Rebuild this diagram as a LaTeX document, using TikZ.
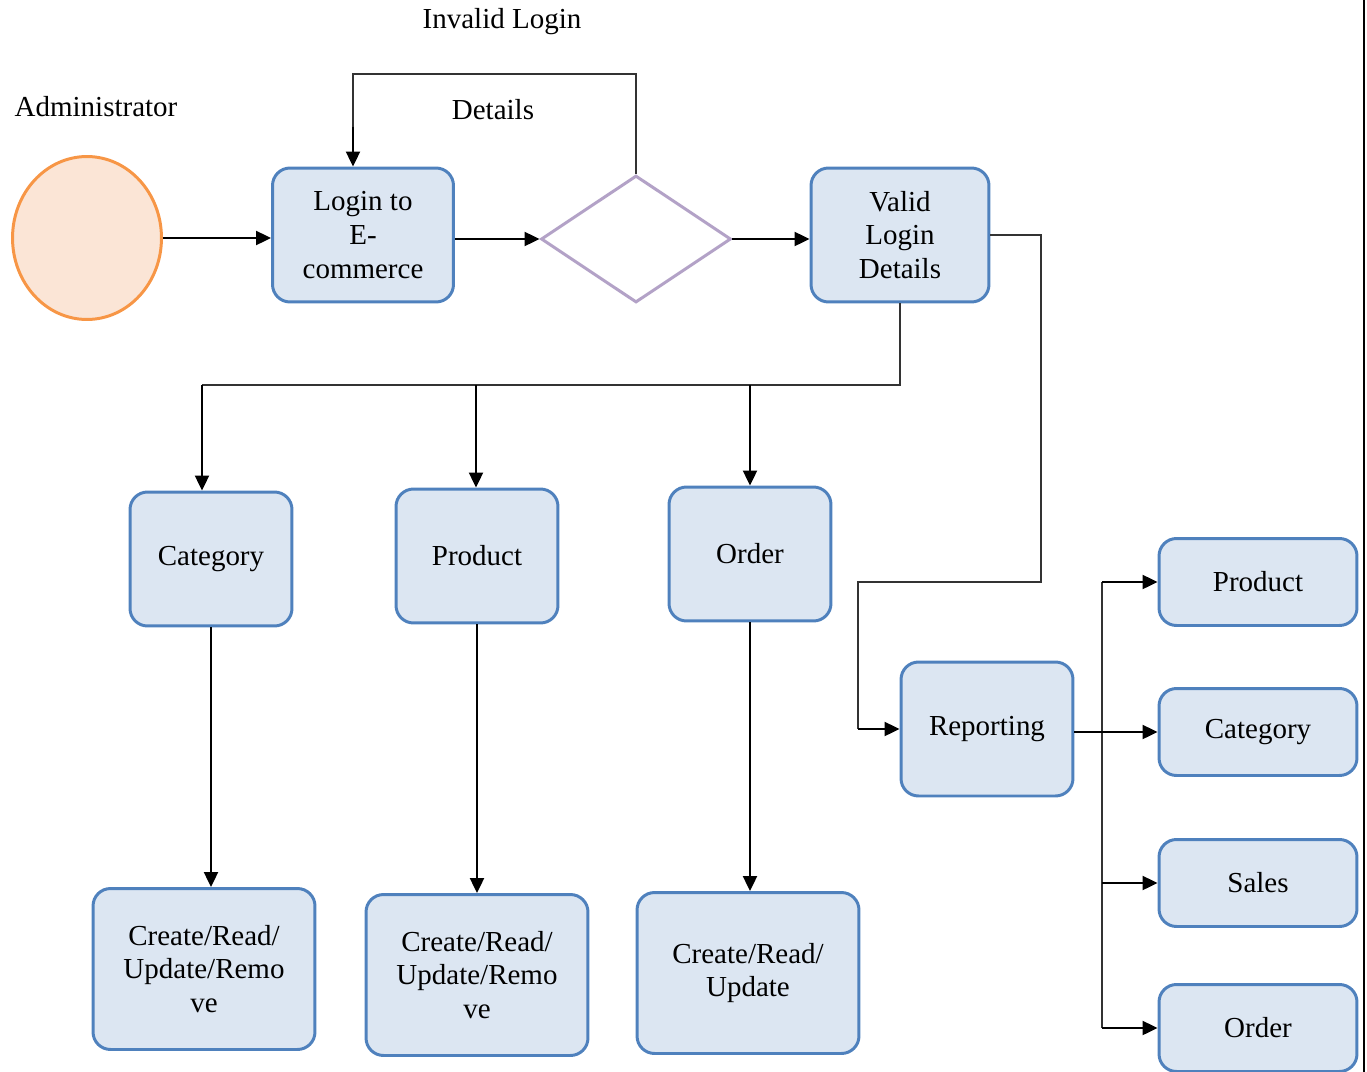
\documentclass[tikz,border=0pt]{standalone}
\usepackage{fontspec}
\setmainfont{Liberation Serif}
\usetikzlibrary{arrows.meta,positioning,calc,shapes.geometric}
\definecolor{boxblue}{HTML}{4F81BD}
\definecolor{boxfill}{HTML}{DCE6F2}
\definecolor{actorline}{HTML}{F79646}
\definecolor{actorfill}{HTML}{FBE5D6}
\definecolor{decline}{HTML}{B3A2C7}
\tikzset{
  procbox/.style={rounded corners=0.35cm, draw=boxblue, fill=boxfill, line width=1.7pt,
                  inner sep=2pt, align=center, font=\fontsize{16.5}{19.3}\selectfont},
  actor/.style={ellipse, draw=actorline, fill=actorfill, line width=1.7pt,
                minimum width=2.98cm, minimum height=3.26cm},
  decbox/.style={diamond, draw=decline, fill=white, line width=1.7pt,
                 minimum width=3.8cm, minimum height=2.54cm, inner sep=0pt},
  flowarr/.style={-{Triangle[length=3mm,width=2.8mm]}, draw=black, line width=1.3pt},
  flowline/.style={draw=black!80, line width=0.7pt},
  flowlab/.style={font=\fontsize{16.5}{19.3}\selectfont, text=black},
}
\begin{document}
\begin{tikzpicture}[x=0.02cm,y=-0.02cm]
\useasboundingbox (0,0) rectangle (1367,1072);
% top row
\node[actor] (admin) at (87,238) {};
\node[flowlab] (adminlab) at (96,107) {Administrator};
\node[procbox, minimum width=3.62cm, minimum height=2.68cm] (login) at (363,235) {Login to\\E-\\commerce};
\node[decbox] (check) at (636,239) {};
\node[procbox, minimum width=3.56cm, minimum height=2.68cm] (valid) at (900,235) {Valid\\Login\\Details};
\node[flowlab] (invlab) at (502,22) {Invalid Login};
\node[flowlab] (detlab) at (493,110) {Details};
% management boxes
\node[procbox, minimum width=3.24cm, minimum height=2.68cm] (cat) at (211,559) {Category};
\node[procbox, minimum width=3.24cm, minimum height=2.68cm] (prod) at (477,556) {Product};
\node[procbox, minimum width=3.24cm, minimum height=2.68cm] (ord) at (750,554) {Order};
\node[procbox, minimum width=4.44cm, minimum height=3.22cm] (crudcat) at (204,969) {Create/Read/\\Update/Remo\\ve};
\node[procbox, minimum width=4.44cm, minimum height=3.22cm] (crudprod) at (477,975) {Create/Read/\\Update/Remo\\ve};
\node[procbox, minimum width=4.44cm, minimum height=3.22cm] (crudord) at (748,973) {Create/Read/\\Update};
% reporting
\node[procbox, minimum width=3.44cm, minimum height=2.68cm] (report) at (987,729) {Reporting};
\node[procbox, minimum width=3.96cm, minimum height=1.74cm] (rprod) at (1258,582) {Product};
\node[procbox, minimum width=3.96cm, minimum height=1.74cm] (rcat) at (1258,732) {Category};
\node[procbox, minimum width=3.96cm, minimum height=1.74cm] (rsales) at (1258,883) {Sales};
\node[procbox, minimum width=3.96cm, minimum height=1.74cm] (rord) at (1258,1028) {Order};

% login flow
\draw[flowarr] (admin.east) -- (admin.east -| login.west);
\draw[flowarr] (login.east |- check) -- (check.west);
\draw[flowarr] (check.east) -- (check.east -| valid.west);
\coordinate (looptop) at (636,74);
\coordinate (loopend) at ($(login.north)+(-10,0)$);
\draw[flowline] (check.north) -- (looptop) -| ($(loopend)+(0,-40)$);
\draw[flowarr] ($(loopend)+(0,-40)$) -- (loopend);

% valid login to the three branches
\coordinate (jcat) at (202,385);
\coordinate (jprod) at (476,385);
\coordinate (jord) at (750,385);
\draw[flowline] (valid.south) |- (jcat);
\draw[flowarr] (jcat) -- (jcat |- cat.north);
\draw[flowarr] (jprod) -- (jprod |- prod.north);
\draw[flowarr] (jord) -- (jord |- ord.north);
\draw[flowarr] (cat.south) -- (cat.south |- crudcat.north);
\draw[flowarr] (prod.south) -- (prod.south |- crudprod.north);
\draw[flowarr] (ord.south) -- (ord.south |- crudord.north);

% valid login to reporting
\coordinate (rA) at (1041,582);
\coordinate (rB) at (858,582);
\coordinate (rC) at (rB |- report.west);
\draw[flowline] (valid.east) -| (rA) -- (rB) -- (rC);
\draw[flowarr] (rC) -- (report.west);

% reporting fan out
\coordinate (bus) at (1102,732);
\draw[flowline] (bus |- rprod.west) -- (bus |- rord.west);
\draw[flowarr] (report.east |- rcat.west) -- (rcat.west);
\draw[flowarr] (bus |- rprod.west) -- (rprod.west);
\draw[flowarr] (bus |- rsales.west) -- (rsales.west);
\draw[flowarr] (bus |- rord.west) -- (rord.west);

% page edge
\draw[line width=1.1pt] (1364,0) -- (1364,1072);
\end{tikzpicture}
\end{document}
